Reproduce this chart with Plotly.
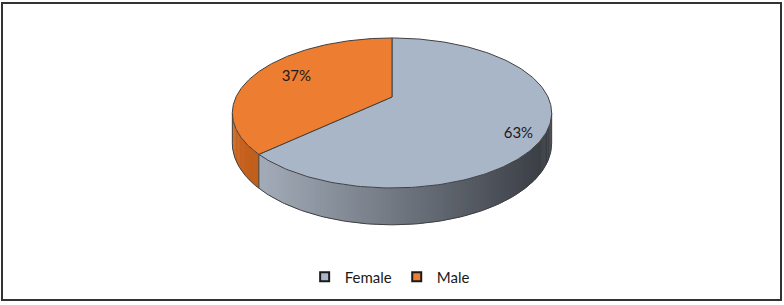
import numpy as np
import plotly.graph_objects as go

# ---- data ----
categories = ["Female", "Male"]
shares = [63, 37]
top_colors = ["#a9b6c8", "#ed7d31"]
side_light = ["#a3acb9", "#c8631e"]
side_dark = ["#373b42", "#c05e1b"]
labels = [f"{s}%" for s in shares]

# ---- 3D pie geometry (pixel space) ----
W, H = 784, 305
CX, CY = 392, 97          # projected centre of the top face
R, A = 156, 71.6          # horizontal / vertical radii
B = 0.213                 # perspective factor
D = 29                    # thickness
LABEL_FX, LABEL_FY = 0.77, 1.0
LABEL_OX, LABEL_OY = 6, 6
EDGE = "#404040"
FONT = "Lato, sans-serif"


def proj(phi_deg, fx=1.0, fy=1.0):
    p = np.radians(phi_deg)
    u = np.sin(p)
    v = -np.cos(p)
    k = 1.0 / (1 - B * v * fy)
    return CX + R * u * fx * k, CY + A * v * fy * k, D * k


def hex2rgb(h):
    h = h.lstrip("#")
    return np.array([int(h[i:i + 2], 16) for i in (0, 2, 4)], float)


def lerp(c1, c2, t):
    c = hex2rgb(c1) * (1 - t) + hex2rgb(c2) * t
    return "rgb(%d,%d,%d)" % tuple(np.round(c))


total = sum(shares)
bounds = np.concatenate([[0], np.cumsum(shares) / total * 360])

fig = go.Figure()

# side (front silhouette between rightmost and leftmost points)
phi_r = np.degrees(np.arccos(-B))
phi_l = 360 - phi_r
for i in range(len(shares)):
    a0 = max(bounds[i], phi_r)
    a1 = min(bounds[i + 1], phi_l)
    if a1 <= a0:
        continue
    n = max(2, int((a1 - a0) / 1.0))
    edges = np.linspace(a0, a1, n + 1)
    step = edges[1] - edges[0]
    xa0, _, _ = proj(a0)
    xa1, _, _ = proj(a1)
    lo, hi = min(xa0, xa1), max(xa0, xa1)
    for j in range(n):
        e0 = edges[j]
        e1 = min(edges[j + 1] + 0.6 * step, a1)
        xa, ya, da = proj(e0)
        xb, yb, db = proj(e1)
        xm = (xa + xb) / 2
        t = min(max((xm - lo) / (hi - lo), 0), 1)
        col = lerp(side_light[i], side_dark[i], t)
        fig.add_trace(go.Scatter(
            x=[xa, xb, xb, xa, xa], y=[ya, yb, yb + db, ya + da, ya],
            mode="lines", fill="toself", fillcolor=col,
            line=dict(color=col, width=0), hoverinfo="skip", showlegend=False))

# side outline: bottom arc and verticals
arc = np.linspace(phi_r, phi_l, 200)
xs, ys, ds = proj(arc)
fig.add_trace(go.Scatter(x=xs, y=ys + ds, mode="lines", line=dict(color=EDGE, width=1),
                         hoverinfo="skip", showlegend=False))
for ang in [phi_r, phi_l] + [b for b in bounds if phi_r < b < phi_l]:
    x0, y0, d0 = proj(ang)
    fig.add_trace(go.Scatter(x=[x0, x0], y=[y0, y0 + d0], mode="lines",
                             line=dict(color=EDGE, width=1), hoverinfo="skip", showlegend=False))

# top faces
for i in range(len(shares)):
    ang = np.linspace(bounds[i], bounds[i + 1], 200)
    xs, ys, _ = proj(ang)
    fig.add_trace(go.Scatter(
        x=np.concatenate([[CX], xs, [CX]]), y=np.concatenate([[CY], ys, [CY]]),
        mode="lines", fill="toself", fillcolor=top_colors[i],
        line=dict(color=EDGE, width=1), hoverinfo="skip", showlegend=False))

# labels
mids = (bounds[:-1] + bounds[1:]) / 2
lx, ly, _ = proj(mids, LABEL_FX, LABEL_FY)
fig.add_trace(go.Scatter(x=lx + LABEL_OX, y=ly + LABEL_OY, mode="text", text=labels,
                         textfont=dict(family=FONT, size=15, color="#1a1a1a"),
                         hoverinfo="skip", showlegend=False))

# legend entries
for i, c in enumerate(categories):
    fig.add_trace(go.Scatter(x=[None], y=[None], mode="markers", name=c,
                             marker=dict(symbol="square", size=9, color=top_colors[i],
                                         line=dict(color="#1a1a1a", width=2))))

fig.update_layout(
    width=W, height=H, margin=dict(l=0, r=0, t=0, b=0),
    paper_bgcolor="white", plot_bgcolor="white",
    xaxis=dict(range=[0, W], visible=False, fixedrange=True),
    yaxis=dict(range=[H, 0], visible=False, fixedrange=True),
    legend=dict(orientation="h", x=0.497, xanchor="center", y=1 - 277 / H, yanchor="middle",
                font=dict(family=FONT, size=15, color="#1a1a1a"),
                itemwidth=30, tracegroupgap=0, bgcolor="rgba(0,0,0,0)"),
    shapes=[dict(type="rect", xref="x", yref="y", x0=2, y0=3, x1=781, y1=300,
                 line=dict(color="#333333", width=2), layer="above")],
)

fig.write_html("out.html", config={"displayModeBar": False},
               post_script="document.body.style.margin='0';document.body.style.overflow='hidden';")
